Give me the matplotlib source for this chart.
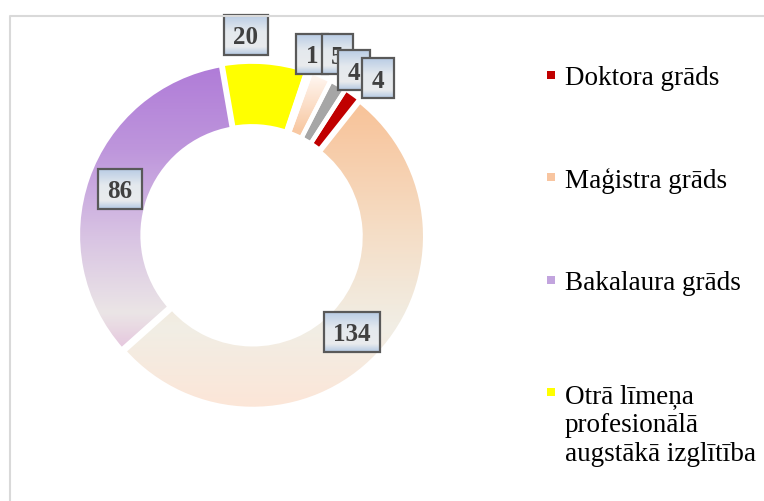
import matplotlib
matplotlib.use("Agg")
import matplotlib.pyplot as plt
import matplotlib.transforms as mtransforms
from matplotlib.colors import LinearSegmentedColormap
from matplotlib.patches import Rectangle, Wedge
from matplotlib.lines import Line2D
import numpy as np

# --- DATA ---
categories = ["Doktora grāds", "Maģistra grāds", "Bakalaura grāds",
              "Otrā līmeņa\nprofesionālā\naugstākā izglītība",
              "Cits 1", "Cits 2", "Cits 3"]
values = [4, 134, 86, 20, 1, 5, 4]
legend_count = 4  # the legend only shows the first four entries

# --- STYLE ---
slice_colors = ["#C00000", "#F8C49B", "#B07CD8", "#FFFF00",
                "#DCE6F2", "#F9D2B2", "#A6A6A6"]
legend_colors = ["#C00000", "#F8C5A0", "#C2A4DE", "#FFFF00"]

# vertical gradients (y in pie units, colour)
gradients = {
    1: [(0.726, "#F8C49B"), (0.037, "#F5DDC5"), (-0.537, "#F1EEE5"), (-0.98, "#FCE6D8")],
    2: [(0.978, "#B07CD8"), (0.496, "#BE96DC"), (0.0, "#D8C3E3"), (-0.45, "#EBE5E6"), (-0.634, "#E6CADF")],
    5: [(0.927, "#FFF6F0"), (0.61, "#F8C8A2")],
}
box_stops = [(0.0, "#BACDE5"), (0.4, "#E4E9EE"), (0.8, "#E9EBED"), (1.0, "#B4C9E3")]

# label placement: radius (pie units) and clockwise shift in degrees
label_r = [1.168, 0.806, 0.811, 1.165, 1.11, 1.162, 1.127]
label_shift = [3.2, 0.5, 0.2, -6.1, -0.9, 1.85, 1.95]
draw_order = [1, 2, 3, 4, 5, 6, 0]

W, H, DPI = 764, 502, 100
CX, CY = 251.7, 236.5      # ring centre, px from top-left
R_PX = 172.5
RING_W = 0.375
START = 57.3
GAP = 3.2                   # white gap between slices, pt
EXPLODE = 0.008
LIM = 1.3
LABEL_SIZE = 18
LEGEND_SIZE = 19.5

# legend rows, px from top: first-line baseline and marker centre
legend_base = [85, 187.5, 289.5, 396]
legend_mark = [76, 177.5, 280.5, 392.5]
LINE_PX = 32.5

plt.rcParams['font.family'] = ['Liberation Serif', 'DejaVu Serif']

fig = plt.figure(figsize=(W / DPI, H / DPI), dpi=DPI)
side = 2 * LIM * R_PX
ax = fig.add_axes([(CX - LIM * R_PX) / W, (H - CY - LIM * R_PX) / H, side / W, side / H])

wedges, _ = ax.pie(values, colors=slice_colors, startangle=START, counterclock=False,
                   radius=1, explode=[EXPLODE] * len(values),
                   wedgeprops=dict(width=RING_W, linewidth=0))
ax.axis('off')


def make_cmap(stops, lo=-1.05, hi=1.05):
    pts = sorted(((y - lo) / (hi - lo), c) for y, c in stops)
    if pts[0][0] > 0:
        pts.insert(0, (0.0, pts[0][1]))
    if pts[-1][0] < 1:
        pts.append((1.0, pts[-1][1]))
    return LinearSegmentedColormap.from_list("g", pts)


grad = np.linspace(1.05, -1.05, 500)[:, None]
for i, stops in gradients.items():
    im = ax.imshow(grad, cmap=make_cmap(stops), vmin=-1.05, vmax=1.05,
                   extent=(-1.05, 1.05, -1.05, 1.05), origin='upper',
                   aspect='auto', zorder=1.5, interpolation='bilinear')
    im.set_clip_path(wedges[i])

# white gaps between the slices
for w in wedges:
    ax.add_patch(Wedge(w.center, w.r, w.theta1, w.theta2, width=w.width,
                       facecolor='none', edgecolor='white', linewidth=GAP, zorder=3))

ax.set_xlim(-LIM, LIM)
ax.set_ylim(-LIM, LIM)

# --- DATA LABELS ---
box_cmap = LinearSegmentedColormap.from_list("box", box_stops)
texts = []
for k, i in enumerate(draw_order):
    w = wedges[i]
    ang = np.deg2rad((w.theta1 + w.theta2) / 2 - label_shift[i])
    x, y = label_r[i] * np.cos(ang), label_r[i] * np.sin(ang)
    z = 10 + 3 * k
    trans = mtransforms.offset_copy(ax.transData, fig=fig, y=-0.34 * LABEL_SIZE, units='points')
    t = ax.text(x, y, str(values[i]), transform=trans, ha='center', va='baseline',
                fontsize=LABEL_SIZE, fontweight='bold', color='#404040', zorder=z + 2)
    texts.append((t, x, y, z))

fig.canvas.draw()
renderer = fig.canvas.get_renderer()
inv = ax.transData.inverted()
for t, x, y, z in texts:
    ext = t.get_window_extent(renderer)
    bw, bh = ext.width + 19, 40
    cx, cy = ax.transData.transform((x, y))
    (x0, y0) = inv.transform((cx - bw / 2, cy - bh / 2))
    (x1, y1) = inv.transform((cx + bw / 2, cy + bh / 2))
    ax.imshow(np.linspace(0, 1, 60)[:, None], cmap=box_cmap, extent=(x0, x1, y0, y1),
              origin='upper', aspect='auto', zorder=z, interpolation='bilinear')
    ax.add_patch(Rectangle((x0, y0), x1 - x0, y1 - y0, facecolor='none',
                           edgecolor='#595959', linewidth=1.6, zorder=z + 1, clip_on=False))

ax.set_xlim(-LIM, LIM)
ax.set_ylim(-LIM, LIM)

# --- LEGEND ---
for i in range(legend_count):
    name = categories[i]
    nlines = name.count("\n")
    fig.add_artist(Rectangle((547 / W, 1 - (legend_mark[i] + 4) / H), 8 / W, 8 / H,
                             transform=fig.transFigure, facecolor=legend_colors[i],
                             edgecolor='none'))
    # 'baseline' on multi-line text anchors the last line
    fig.text(565 / W, 1 - (legend_base[i] + nlines * LINE_PX) / H, name,
             fontsize=LEGEND_SIZE, color='black', ha='left', va='baseline',
             linespacing=1.2)

# chart frame (only top and left edges are visible)
fig.add_artist(Line2D([10 / W, 10 / W, 1.01], [-0.01, 1 - 17 / H, 1 - 17 / H],
                      transform=fig.transFigure, color='#D9D9D9', linewidth=1.5))

fig.savefig('out.png', dpi=DPI)
